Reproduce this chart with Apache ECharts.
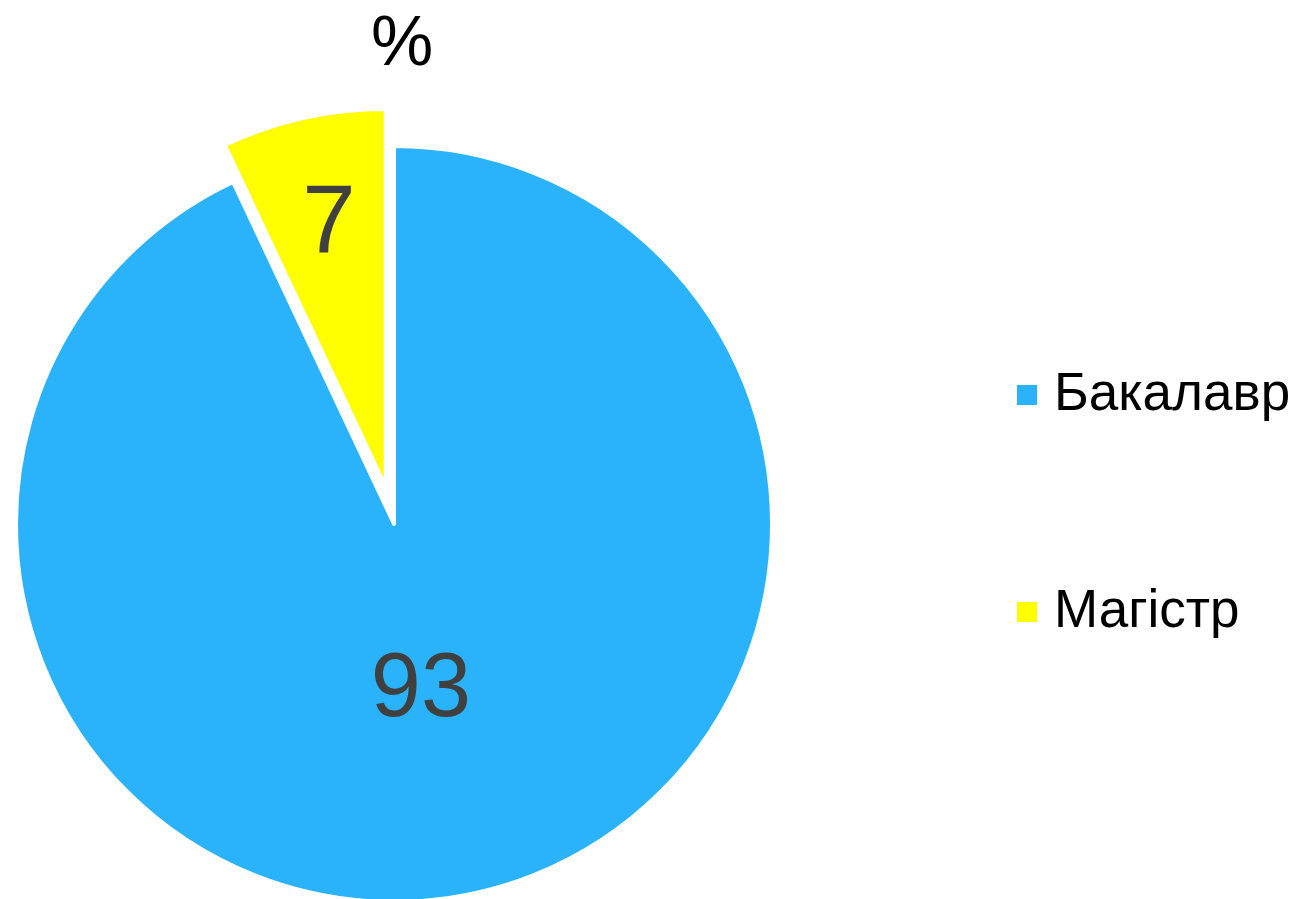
<!DOCTYPE html>
<html><head><meta charset="utf-8">
<script src="https://cdn.jsdelivr.net/npm/echarts@6/dist/echarts.min.js"></script>
<style>html,body{margin:0;padding:0;background:#fff}#c{width:1297px;height:899px}</style>
</head><body><div id="c"></div>
<script>
const categories = ['Бакалавр', 'Магістр'];
const values = [93, 7];
const colors = ['#2AB2FA', '#FFFF00'];
const titleText = '%';

const chart = echarts.init(document.getElementById('c'), null, {renderer: 'canvas'});
const FONT = '"Liberation Sans", Arial, sans-serif';
const labelStyles = [
  {offset: [-15, -20]},
  {offset: [-15, -74], fontSize: 96}
];
chart.setOption({
  animation: false,
  backgroundColor: '#ffffff',
  title: {
    text: titleText, left: 397, top: 6, textAlign: 'center',
    textStyle: {fontFamily: FONT, fontSize: 70, fontWeight: 'normal', color: '#000'}
  },
  legend: {
    orient: 'vertical', left: 1010, top: 360,
    itemWidth: 22, itemHeight: 22, itemGap: 157,
    icon: 'rect',
    data: categories,
    selectedMode: false,
    textStyle: {fontFamily: FONT, fontSize: 53, color: '#000', lineHeight: 60, padding: [0, 0, 0, 11]}
  },
  series: [{
    type: 'pie',
    center: [394, 524],
    radius: 378,
    startAngle: 90,
    clockwise: true,
    selectedMode: 'single',
    selectedOffset: 38,
    itemStyle: {borderColor: '#fff', borderWidth: 4},
    label: {
      show: true, position: 'inside',
      formatter: '{c}',
      fontFamily: FONT, color: '#404040', fontSize: 90
    },
    labelLine: {show: false},
    emphasis: {disabled: true},
    data: categories.map((n, i) => ({
      name: n, value: values[i],
      selected: i === 1,
      itemStyle: {color: colors[i]},
      label: labelStyles[i],
      select: {label: labelStyles[i], itemStyle: {color: colors[i], borderColor: '#fff', borderWidth: 4}}
    }))
  }]
});
</script></body></html>
